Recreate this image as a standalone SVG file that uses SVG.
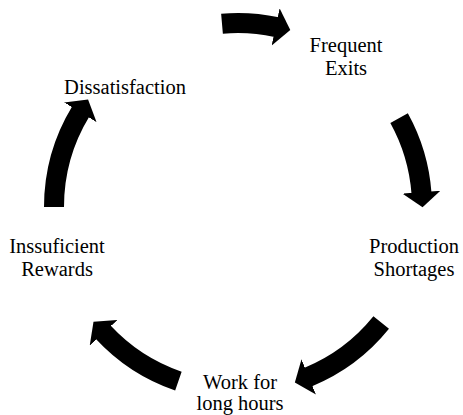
<svg xmlns="http://www.w3.org/2000/svg" width="463" height="415" viewBox="0 0 463 415">
<style>
.lbl{font-family:"Liberation Serif","Times New Roman",serif;font-size:20.5px;fill:#000;text-anchor:middle}
.arc{fill:none;stroke:#000;stroke-width:20;stroke-linecap:butt;marker-end:url(#head)}
</style>
<defs>
<marker id="head" markerUnits="userSpaceOnUse" markerWidth="17" markerHeight="38" refX="1" refY="19" orient="auto">
<path d="M0,0 L15,19 L0,38 Z" fill="#000"/>
</marker>
</defs>
<rect width="463" height="415" fill="#fff"/>
<g id="connectors">
<path class="arc" d="M222,23.7 A184,184 0 0 1 276.6,27.1"/>
<path class="arc" d="M399.1,118.1 A184,184 0 0 1 421.5,193.2"/>
<path class="arc" d="M381.2,322.5 A184,184 0 0 1 307.8,377.2"/>
<path class="arc" d="M178.4,381.1 A184,184 0 0 1 103,332"/>
<path class="arc" d="M54,207 A184,184 0 0 1 80.8,111.4"/>
</g>
<g id="frequent-exits"><text class="lbl" x="346" y="52">Frequent</text><text class="lbl" x="346" y="75">Exits</text></g>
<g id="production-shortages"><text class="lbl" x="414" y="253">Production</text><text class="lbl" x="414" y="276">Shortages</text></g>
<g id="work-long-hours"><text class="lbl" x="240" y="389">Work for</text><text class="lbl" x="240" y="410">long hours</text></g>
<g id="insufficient-rewards"><text class="lbl" x="57" y="253">Inssuficient</text><text class="lbl" x="57" y="276">Rewards</text></g>
<g id="dissatisfaction"><text class="lbl" x="125" y="94">Dissatisfaction</text></g>
</svg>
